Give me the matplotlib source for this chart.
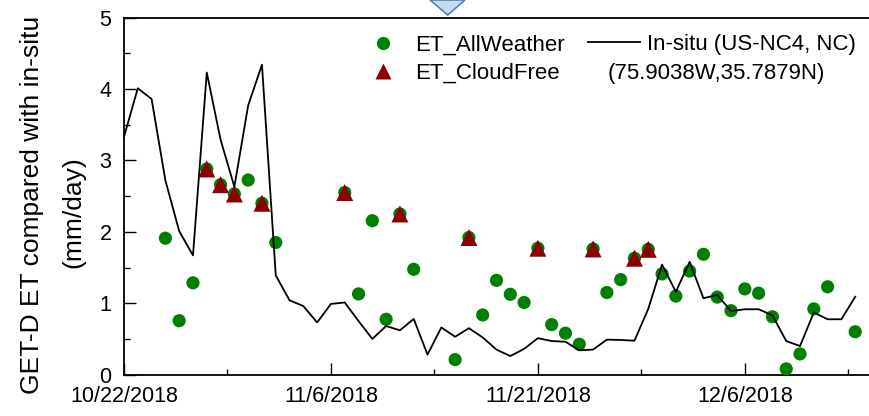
import matplotlib
matplotlib.use("Agg")
import matplotlib.pyplot as plt
from matplotlib.lines import Line2D
from matplotlib.patches import Polygon
import pandas as pd

plt.rcParams['font.family'] = ['Liberation Sans', 'DejaVu Sans']

# In-situ daily ET at US-NC4 (mm/day), one value per day from 10/22/2018
insitu_start = "2018-10-22"
insitu_et = [3.33, 4.01, 3.86, 2.72, 2.01, 1.67, 4.23, 3.29, 2.63, 3.77,
             4.34, 1.39, 1.04, 0.96, 0.73, 0.99, 1.01, 0.75, 0.50, 0.68,
             0.62, 0.78, 0.28, 0.66, 0.53, 0.65, 0.52, 0.35, 0.26, 0.36,
             0.51, 0.47, 0.46, 0.34, 0.35, 0.49, 0.485, 0.475, 0.92, 1.54,
             1.16, 1.58, 1.07, 1.115, 0.89, 0.915, 0.915, 0.83, 0.47, 0.40,
             0.87, 0.775, 0.775, 1.09]

# GET-D all-weather ET retrievals
allweather_dates = ["10/25", "10/26", "10/27", "10/28", "10/29", "10/30", "10/31", "11/1", "11/2",
                    "11/7", "11/8", "11/9", "11/10", "11/11", "11/12",
                    "11/15", "11/16", "11/17", "11/18", "11/19", "11/20", "11/21", "11/22",
                    "11/23", "11/24", "11/25", "11/26", "11/27", "11/28", "11/29", "11/30",
                    "12/1", "12/2", "12/3", "12/4", "12/5", "12/6", "12/7", "12/8",
                    "12/9", "12/10", "12/11", "12/12", "12/14"]
allweather_et = [1.91, 0.755, 1.285, 2.88, 2.66, 2.53, 2.725, 2.40, 1.85,
                 2.55, 1.13, 2.155, 0.775, 2.25, 1.475,
                 0.21, 1.92, 0.835, 1.32, 1.125, 1.01, 1.77, 0.70,
                 0.58, 0.425, 1.76, 1.15, 1.33, 1.63, 1.755, 1.41,
                 1.10, 1.45, 1.685, 1.085, 0.895, 1.20, 1.14, 0.81,
                 0.08, 0.29, 0.92, 1.23, 0.60]

# GET-D cloud-free ET retrievals
cloudfree_dates = ["10/28", "10/29", "10/30", "11/1", "11/7", "11/11",
                   "11/16", "11/21", "11/25", "11/28", "11/29"]
cloudfree_et = [2.88, 2.66, 2.53, 2.40, 2.55, 2.25, 1.92, 1.77, 1.76, 1.63, 1.755]

tick_dates = ["2018-10-22", "2018-11-06", "2018-11-21", "2018-12-06"]
x_range = ["2018-10-22", "2018-12-15"]


def to_dates(md):
    return pd.to_datetime([f"2018/{s}" for s in md], format="%Y/%m/%d")


insitu_x = pd.date_range(insitu_start, periods=len(insitu_et), freq="D")
aw_x = to_dates(allweather_dates)
cf_x = to_dates(cloudfree_dates)

fig = plt.figure(figsize=(8.69, 4.16), dpi=100)
ax = fig.add_axes([124 / 869, 1 - 374.6 / 416, 745 / 869, 357 / 416])

ax.scatter(aw_x, allweather_et, s=90, marker="o", color="#008000",
           edgecolors="none", zorder=3)
ax.scatter(cf_x, cloudfree_et, s=150, marker="^", color="#8B0000",
           edgecolors="none", zorder=4)
ax.plot(insitu_x, insitu_et, color="black", lw=1.3, zorder=5)

ax.set_xlim(pd.to_datetime(x_range[0]), pd.to_datetime(x_range[1]))
ax.set_ylim(0, 5)

major = pd.to_datetime(tick_dates)
ax.set_xticks(major)
ax.set_xticklabels([f"{d.month}/{d.day}/{d.year}" for d in major])
minor = [d + pd.Timedelta(hours=180) for d in major]
ax.set_xticks(minor, minor=True)
ax.set_yticks(range(0, 6))
ax.set_yticks([0.5, 1.5, 2.5, 3.5, 4.5], minor=True)

ax.tick_params(which="major", direction="in", length=8.5, width=1.0,
               labelsize=15.5, top=False, right=False)
ax.tick_params(which="minor", direction="in", length=4, width=1.0,
               top=False, right=False)
ax.tick_params(axis="y", which="major", pad=9)
ax.tick_params(axis="x", which="major", pad=8.5)

for side in ("left", "bottom", "top"):
    ax.spines[side].set_linewidth(1.3)
ax.spines["right"].set_visible(False)

# y-axis title, two lines
fig.text(32 / 869, 1 - 204.5 / 416, "GET-D ET compared with in-situ",
         rotation=90, ha="center", va="center", fontsize=19)
fig.text(73 / 869, 1 - 212 / 416, "(mm/day)",
         rotation=90, ha="center", va="center", fontsize=19)

# legends
h_aw = Line2D([], [], marker="o", ls="none", color="#008000", ms=9.5, mec="none")
h_cf = Line2D([], [], marker="^", ls="none", color="#8B0000", ms=12, mec="none")
leg1 = fig.legend([h_aw, h_cf], ["ET_AllWeather", "ET_CloudFree"],
                  loc="upper left", bbox_to_anchor=(371.5 / 869, 1 - 35 / 416),
                  frameon=False, fontsize=16, handlelength=1.0,
                  handletextpad=0.95, labelspacing=0.32, borderpad=0,
                  borderaxespad=0)
h_in = Line2D([], [], color="black", lw=1.3)
leg2 = fig.legend([h_in], ["In-situ (US-NC4, NC)"],
                  loc="upper left", bbox_to_anchor=(588 / 869, 1 - 34 / 416),
                  frameon=False, fontsize=16, handlelength=2.35,
                  handletextpad=0.3, borderpad=0, borderaxespad=0)
fig.text(608 / 869, 1 - 73 / 416, "(75.9038W,35.7879N)",
         ha="left", va="center", fontsize=16)

# callout arrow tip at the top edge
fig.patches.append(Polygon([(430 / 869, 1.0), (465 / 869, 1.0), (447.7 / 869, 1 - 15 / 416)],
                           closed=True, transform=fig.transFigure,
                           facecolor="#C6D9F1", edgecolor="#4F81BD", lw=1.2))

fig.savefig("out.png", dpi=100)
